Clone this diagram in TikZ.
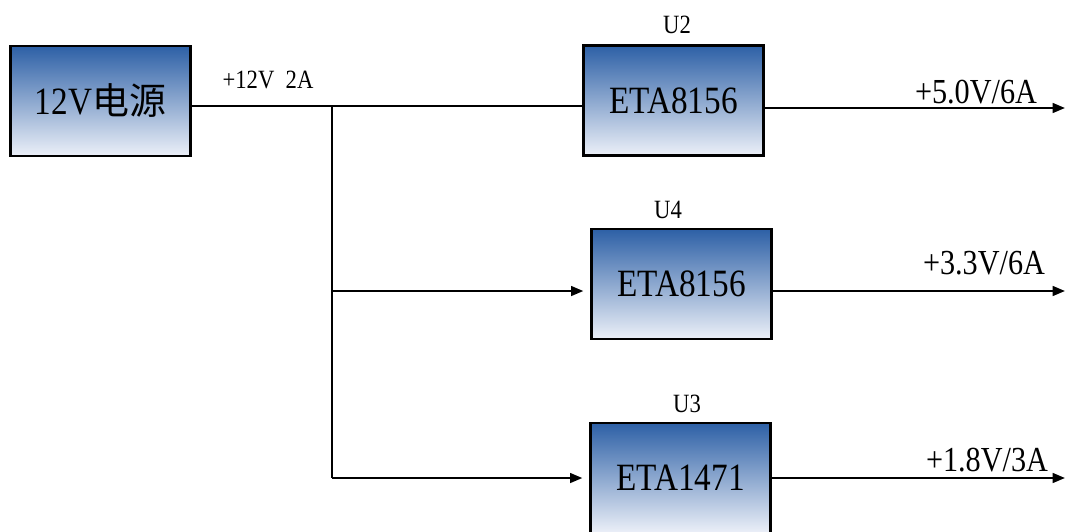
\documentclass[tikz,border=0pt]{standalone}
\usepackage{fontspec}
\setmainfont{Liberation Serif}[FakeStretch=0.86]
\newfontfamily\cjkfont{Noto Sans CJK SC}
\usetikzlibrary{arrows.meta}
\definecolor{chiptop}{RGB}{45,96,166}
\definecolor{chipbottom}{RGB}{236,240,248}

\begin{document}
\begin{tikzpicture}[x=0.02cm,y=-0.02cm,
	chip/.style={draw,line width=1.3pt,top color=chiptop,bottom color=chipbottom,
		minimum width=3.6cm,minimum height=2.2cm,inner sep=0pt,
		font=\fontsize{22}{26}\selectfont},
	tag/.style={font=\fontsize{15}{18}\selectfont},
	rail/.style={font=\fontsize{20}{24}\selectfont},
	wire/.style={line width=1.3pt},
	feed/.style={wire,-{Triangle[length=7pt,width=5.5pt]}}]
	\useasboundingbox (0,0) rectangle (1065,531);
	\node[chip] (pwr) at (100.5,101) {12V{\cjkfont\fontsize{21}{26}\selectfont 电源}};
	\node[chip] (u2) at (673.5,100.5) {ETA8156};
	\node[chip] (u4) at (681.5,284) {ETA8156};
	\node[chip] (u3) at (680.5,478) {ETA1471};
	\node[tag] (u2l) at (677,25) {U2};
	\node[tag] (u4l) at (668,210) {U4};
	\node[tag] (u3l) at (687,404) {U3};
	\node[tag] (vin) at (268,80) {+12V\ \ 2A};
	\coordinate (tap) at (332,106);
	\coordinate (b4) at (332,291);
	\coordinate (b3) at (332,478);
	\draw[wire] (pwr.east |- tap) -- (tap) -- (u2.west |- tap);
	\draw[wire] (tap) -- (b3);
	\draw[feed,shorten >=0.14cm] (b4) -- (b4 -| u4.west);
	\draw[feed,shorten >=0.14cm] (b3) -- (b3 -| u3.west);
	\coordinate (o2) at (1065,108);
	\coordinate (o4) at (1065,291);
	\coordinate (o3) at (1065,478);
	\draw[feed] (u2.east |- o2) -- (o2);
	\draw[feed] (u4.east |- o4) -- (o4);
	\draw[feed] (u3.east |- o3) -- (o3);
	\node[rail] (v2) at (976,92) {+5.0V/6A};
	\node[rail] (v4) at (984,263) {+3.3V/6A};
	\node[rail] (v3) at (987,460) {+1.8V/3A};
\end{tikzpicture}
\end{document}
